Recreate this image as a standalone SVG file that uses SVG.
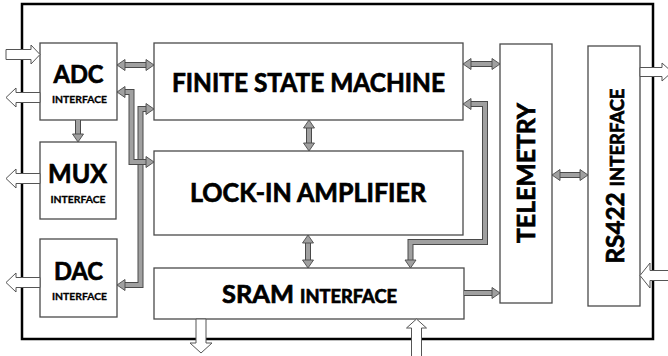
<svg xmlns="http://www.w3.org/2000/svg" xmlns:xlink="http://www.w3.org/1999/xlink" width="668" height="356" viewBox="0 0 668 356">
<style>
.box{fill:#fff;stroke:#4a4a4a;stroke-width:1.3}
.frame{fill:none;stroke:#000;stroke-width:2.5}
.t{font-family:Lato,"Open Sans","DejaVu Sans",sans-serif;font-weight:bold;fill:#000;stroke:#000;stroke-width:0.7;text-anchor:middle}
.s{stroke-width:0.3}
.so{fill:none;stroke:#4a4a4a;stroke-width:6;stroke-linejoin:miter}
.si{fill:none;stroke:#a0a0a0;stroke-width:4;stroke-linejoin:miter}
.gh{fill:#a0a0a0;stroke:#4a4a4a;stroke-width:0.9;stroke-linejoin:miter}
.ha{fill:#fff;stroke:#555;stroke-width:1}
</style>
<defs>
<polygon id="gh" class="gh" points="0,0 -8,-5.5 -8,5.5"/>
</defs>
<rect class="frame" x="22" y="4" width="631" height="335"/>
<g id="adc"><rect class="box" x="40" y="43" width="77" height="77"/>
<text class="t" x="78.5" y="83" font-size="25" textLength="50" lengthAdjust="spacingAndGlyphs">ADC</text>
<text class="t s" x="79.5" y="103" font-size="10" textLength="55" lengthAdjust="spacingAndGlyphs">INTERFACE</text></g>
<g id="mux"><rect class="box" x="40" y="142" width="76" height="77"/>
<text class="t" x="77.5" y="183" font-size="27" textLength="59" lengthAdjust="spacingAndGlyphs">MUX</text>
<text class="t s" x="78" y="203" font-size="10" textLength="55" lengthAdjust="spacingAndGlyphs">INTERFACE</text></g>
<g id="dac"><rect class="box" x="40" y="239" width="77" height="78"/>
<text class="t" x="78.5" y="280" font-size="25" textLength="49" lengthAdjust="spacingAndGlyphs">DAC</text>
<text class="t s" x="79.5" y="300" font-size="10" textLength="55" lengthAdjust="spacingAndGlyphs">INTERFACE</text></g>
<g id="fsm"><rect class="box" x="154" y="43" width="309" height="77"/>
<text class="t" x="308.5" y="92" font-size="26" textLength="273" lengthAdjust="spacingAndGlyphs">FINITE STATE MACHINE</text></g>
<g id="lockin"><rect class="box" x="154" y="151" width="309" height="84"/>
<text class="t" x="308" y="201.5" font-size="26" textLength="236" lengthAdjust="spacingAndGlyphs">LOCK-IN AMPLIFIER</text></g>
<g id="sram"><rect class="box" x="154" y="268" width="310" height="51"/>
<text class="t" x="309.5" y="303" textLength="175" lengthAdjust="spacingAndGlyphs"><tspan font-size="25">SRAM </tspan><tspan font-size="18">INTERFACE</tspan></text></g>
<g id="telemetry"><rect class="box" x="500" y="44" width="52" height="259"/>
<text class="t" transform="translate(535,173) rotate(-90)" x="0" y="0" font-size="24" textLength="140" lengthAdjust="spacingAndGlyphs">TELEMETRY</text></g>
<g id="rs422"><rect class="box" x="588" y="46" width="52" height="260"/>
<text class="t" transform="translate(624,176) rotate(-90)" x="0" y="0" textLength="175" lengthAdjust="spacingAndGlyphs"><tspan font-size="25">RS422 </tspan><tspan font-size="19">INTERFACE</tspan></text></g>
<g id="connectors">
<path class="so" d="M124,65H147"/><path class="si" d="M124,65H147"/>
<use xlink:href="#gh" transform="translate(117,65) rotate(180)"/><use xlink:href="#gh" transform="translate(154,65)"/>
<path class="so" d="M470,64H493"/><path class="si" d="M470,64H493"/>
<use xlink:href="#gh" transform="translate(463,64) rotate(180)"/><use xlink:href="#gh" transform="translate(500,64)"/>
<path class="so" d="M559,175H581"/><path class="si" d="M559,175H581"/>
<use xlink:href="#gh" transform="translate(552,175) rotate(180)"/><use xlink:href="#gh" transform="translate(588,175)"/>
<path class="so" d="M309,127V144"/><path class="si" d="M309,127V144"/>
<use xlink:href="#gh" transform="translate(309,120) rotate(-90)"/><use xlink:href="#gh" transform="translate(309,151) rotate(90)"/>
<path class="so" d="M308,242V261"/><path class="si" d="M308,242V261"/>
<use xlink:href="#gh" transform="translate(308,235) rotate(-90)"/><use xlink:href="#gh" transform="translate(308,268) rotate(90)"/>
<path class="so" d="M78,120V135"/><path class="si" d="M78,120V135"/>
<use xlink:href="#gh" transform="translate(78,142) rotate(90)"/>
<path class="so" d="M464,293H493"/><path class="si" d="M464,293H493"/>
<use xlink:href="#gh" transform="translate(500,293)"/>
<path class="so" d="M146,109H140.5V285H124"/><path class="si" d="M146,109H140.5V285H124"/>
<use xlink:href="#gh" transform="translate(154,109)"/><use xlink:href="#gh" transform="translate(117,285) rotate(180)"/>
<path class="so" d="M124,92H131.5V162H146"/><path class="si" d="M124,92H131.5V162H146"/>
<use xlink:href="#gh" transform="translate(117,92) rotate(180)"/><use xlink:href="#gh" transform="translate(154,162)"/>
<path class="so" d="M470,104H485V242H410.5V261"/><path class="si" d="M470,104H485V242H410.5V261"/>
<use xlink:href="#gh" transform="translate(463,104) rotate(180)"/><use xlink:href="#gh" transform="translate(410.5,268) rotate(90)"/>
<polygon class="ha" points="6,49.5 31,49.5 31,45 40,54.5 31,64 31,59.5 6,59.5"/>
<polygon class="ha" points="40,92.5 16,92.5 16,88 6,97.5 16,107 16,102.5 40,102.5"/>
<polygon class="ha" points="40,173.5 16,173.5 16,169 6,178.5 16,188 16,183.5 40,183.5"/>
<polygon class="ha" points="40,277.5 16,277.5 16,273 6,282.5 16,292 16,287.5 40,287.5"/>
<polygon class="ha" points="196,319 206,319 206,343 212,343 201,353 190,343 196,343"/>
<polygon class="ha" points="411.5,357 411.5,328 406.5,328 416.5,319 426.5,328 421.5,328 421.5,357"/>
<polygon class="ha" points="640,67.5 662,67.5 662,63 672,72 662,81 662,76.5 640,76.5"/>
<polygon class="ha" points="669,270.5 650,270.5 650,263 640,275.5 650,288 650,280.5 669,280.5"/>
</g>
</svg>
